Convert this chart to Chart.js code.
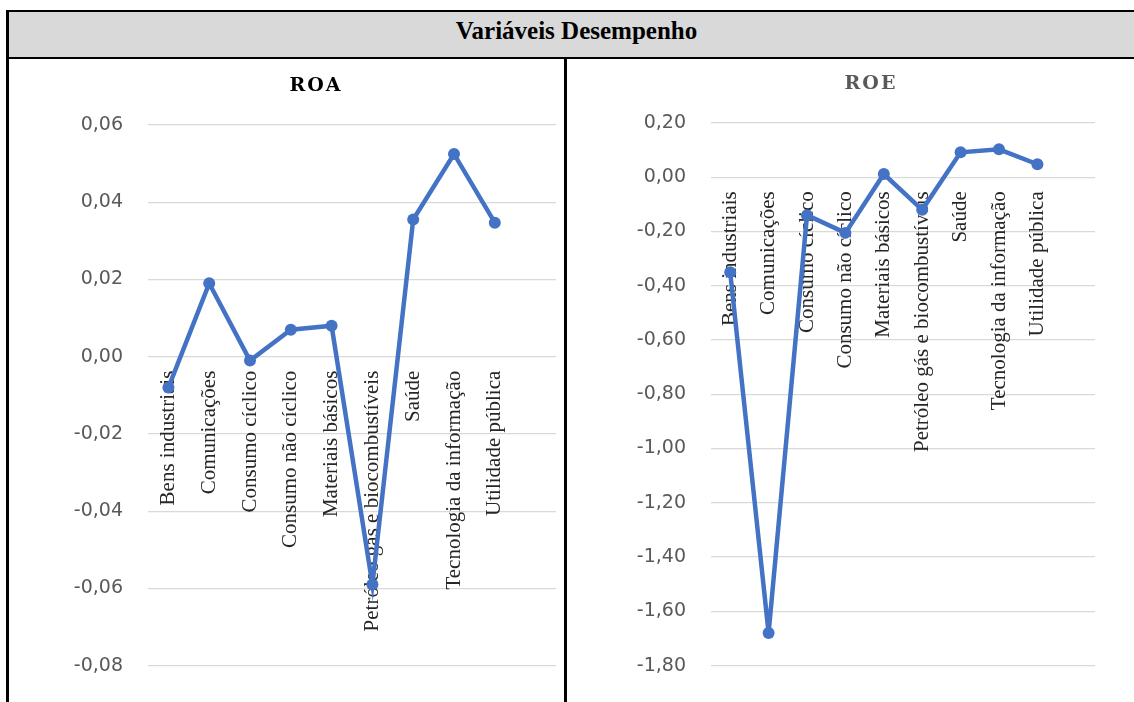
<!DOCTYPE html>
<html>
<head>
<meta charset="utf-8">
<script src="https://cdn.jsdelivr.net/npm/chart.js@4.4.1/dist/chart.umd.min.js"></script>
<style>
  body { margin: 0; background: #fff; width: 1134px; height: 702px; overflow: hidden; position: relative; }
  #frame { position: absolute; left: 6px; top: 10px; width: 1140px; height: 700px; border-top: 2px solid #000; border-left: 3px solid #000; }
  #header { position: absolute; left: 9px; top: 12px; width: 1125px; height: 45px; background: #d9d9d9; border-bottom: 2px solid #000;
            font: bold 25px "Liberation Serif", serif; color: #000; text-align: center; line-height: 37px; }
  #divider { position: absolute; left: 564px; top: 59px; width: 3px; height: 650px; background: #000; }
  .panel { position: absolute; top: 61px; }
  .titulo { position: absolute; width: 200px; margin-left: -100px; text-align: center;
            font: bold 19px "DejaVu Serif", serif; letter-spacing: 2px; line-height: 20px; }
</style>
</head>
<body>
<div id="frame"></div>
<div id="header"><span style="position:relative;left:5px">Variáveis Desempenho</span></div>
<div id="divider"></div>
<div class="panel" style="left:9px;width:555px;height:641px"><canvas id="roa"></canvas></div>
<div class="panel" style="left:567px;width:567px;height:641px"><canvas id="roe"></canvas></div>
<div class="titulo" style="left:316px;top:74px;color:#000">ROA</div>
<div class="titulo" style="left:871px;top:72px;color:#595959">ROE</div>
<script>
const setores = [
    'Bens industriais',
    'Comunicações',
    'Consumo cíclico',
    'Consumo não cíclico',
    'Materiais básicos',
    'Petróleo gás e biocombustíveis',
    'Saúde',
    'Tecnologia da informação',
    'Utilidade pública'
];

const roa = [-0.008, 0.019, -0.001, 0.007, 0.008, -0.059, 0.0355, 0.0525, 0.0347];
const roe = [-0.35, -1.68, -0.14, -0.205, 0.012, -0.12, 0.092, 0.103, 0.048];

const roaTicks = { min: -0.08, max: 0.06, step: 0.02 };
const roeTicks = { min: -1.8, max: 0.2, step: 0.2 };

const azul = '#4472c4';

function virgula(v) {
    if (Math.abs(v) < 1e-9) v = 0;
    return v.toFixed(2).replace('.', ',');
}

function makeChart(id, nome, valores, escala, eixoLargura, padTop, padRight, padBottom) {
    return new Chart(document.getElementById(id), {
        type: 'line',
        data: {
            datasets: [{
                label: nome,
                data: valores.map((v, i) => ({ x: i, y: v })),
                borderColor: azul,
                backgroundColor: azul,
                borderWidth: 4.5,
                pointRadius: 6,
                pointHoverRadius: 6,
                pointBorderWidth: 0,
                tension: 0
            }]
        },
        options: {
            responsive: true,
            maintainAspectRatio: false,
            animation: false,
            layout: { padding: { left: 0, right: padRight, bottom: padBottom, top: padTop } },
            plugins: {
                legend: { display: false },
                tooltip: { enabled: false },
                title: { display: false }
            },
            scales: {
                x: {
                    type: 'linear',
                    min: -0.5,
                    max: 9.5,
                    position: { y: 0 },
                    z: 1,
                    grid: { display: false, drawTicks: false },
                    border: { display: false },
                    afterBuildTicks: s => { s.ticks = setores.map((c, i) => ({ value: i })); },
                    afterFit: s => { s.height = 0; },
                    ticks: {
                        autoSkip: false,
                        minRotation: 90,
                        maxRotation: 90,
                        padding: 14,
                        color: '#262626',
                        font: { family: '"Liberation Serif", serif', size: 21 },
                        callback: v => setores[v]
                    }
                },
                y: {
                    min: escala.min,
                    max: escala.max,
                    afterFit: s => { s.width = eixoLargura; },
                    grid: { color: '#d9d9d9', lineWidth: 1.2, drawTicks: false },
                    border: { display: false },
                    ticks: {
                        stepSize: escala.step,
                        padding: 25,
                        color: '#595959',
                        font: { family: '"DejaVu Sans", sans-serif', size: 19 },
                        callback: v => virgula(v)
                    }
                }
            }
        }
    });
}

makeChart('roa', 'ROA', roa, roaTicks, 139, 64, 8, 29);
makeChart('roe', 'ROE', roe, roeTicks, 144, 62, 39, 31);
</script>
</body>
</html>
